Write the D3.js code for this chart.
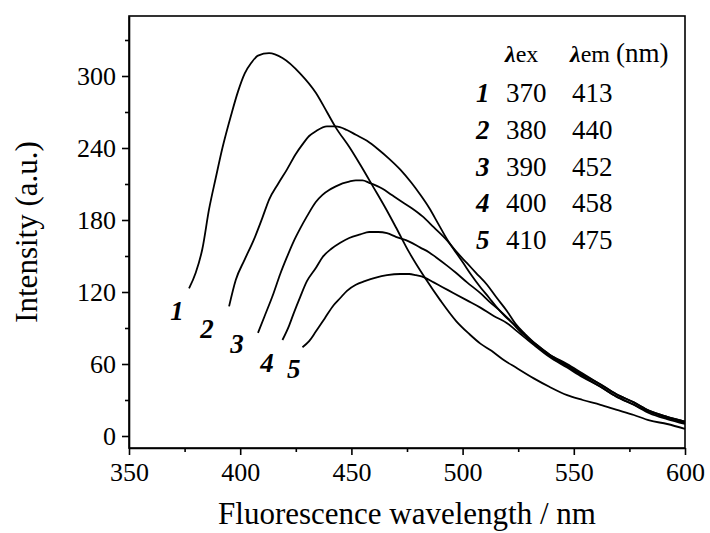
<!DOCTYPE html>
<html>
<head>
<meta charset="utf-8">
<script src="https://cdn.jsdelivr.net/npm/d3@7"></script>
<style>
  body { margin: 0; background: #fff; }
  .axis path, .axis line { stroke: #000; stroke-width: 1.6px; }
  .axis text { fill: #000; font-size: 26px; }
</style>
</head>
<body>
<svg id="chart" width="710" height="533"></svg>
<script>
var FONT = '"Liberation Serif"';

// emission spectra: [wavelength nm, intensity a.u.]
var curve1 = [[377,123],[380,136],[383,156],[386,189],[389,215],[392,240],[396,268],[399,287],[402,302],
  [405,311],[408,317],[413,319],[419,315],[427,302],[434,286],[439,270],[443,257],[449,241],[454,226],
  [460,207],[465,191],[470,174],[476,153],[483,132],[490,113],[497,96],[503,85],[508,77],[513,71],
  [518,64],[524,57],[532,48],[539,41],[547,34],[554,30],[562,26],[569,22],[577,17.5],[584,13],[592,10],[600,6]];
var curve2 = [[395,108],[398,130],[402,147],[406,163],[410,182],[413,197],[417,210],[421,222],[425,235],
  [428,243],[431,250],[434,254],[439,258],[443,258],[448,255],[452,251],[457,246],[462,239],[467,231],
  [472,222],[477,211],[481,201],[485,190],[489,177],[493,164],[497,153],[500,145],[504,134],[508,124],
  [512,115],[515,108],[519,100],[523,93],[526,87],[532,78],[539,68],[547,60],[554,52],[562,43],[569,35],
  [577,28],[584,21],[592,16],[600,12]];
var curve3 = [[408,86],[411,100],[415,119],[418,135],[421,149],[424,162],[427,173],[430,183],[434,195],
  [437,201],[440,205],[443,208],[446,210.5],[449,212],[452,213],[455,213],[458,211],[464,206],[468,201],
  [472,196],[477,190],[482,183],[487,174],[493,163],[497,154],[502,144],[506,136],[511,126],[515,116],
  [520,104],[524,93],[528,85],[532,78],[539,68],[547,59],[554,51],[562,43],[569,35],[577,28],[584,21],
  [592,16],[600,12]];
var curve4 = [[419,80],[422,92],[424,102],[427,116],[430,129],[434,140],[437,149],[441,156],[445,161],
  [449,165],[454,168],[458,170],[462,170],[466,169],[470,166],[476,162],[481,157],[485,153],[488,149],
  [493,142],[497,136],[502,128],[508,119],[512,112],[517,104],[521,97],[524,91],[528,84],[532,77],
  [539,67],[547,58],[554,50],[562,41],[569,33],[577,26],[584,20],[592,15],[600,11]];
var curve5 = [[428,74],[431,79],[434,87],[438,98],[442,109],[445,115],[448,121],[452,126],[456,129],
  [461,132],[466,134],[472,135],[476,135],[479,134],[483,132],[487,128],[491,124],[496,119],[502,113],
  [508,107],[514,100],[520,94],[524,88],[528,82],[532,76],[539,66],[547,57],[554,49],[562,41],[569,33],
  [577,26],[584,19],[592,14],[600,10]];

var curveNames = ['1', '2', '3', '4', '5'];
// where each curve number sits, in data units [wavelength, intensity]
var labelAnchors = [[368.5,97],[382,81.5],[395.5,69],[409,53],[421,48]];
var exWavelengths = ['370', '380', '390', '400', '410'];
var emWavelengths = ['413', '440', '452', '458', '475'];

var xTicks = [350, 400, 450, 500, 550, 600];
var xMinor = [375, 425, 475, 525, 575];
var yTicks = [0, 60, 120, 180, 240, 300];
var yMinor = [30, 90, 150, 210, 270, 330];

var svg = d3.select('#chart');
var x = d3.scaleLinear().domain([350, 600]).range([129, 685]);
var y = d3.scaleLinear().domain([-10, 350]).range([448, 16]);

// frame
svg.append('rect')
  .attr('x', x(350)).attr('y', y(350))
  .attr('width', x(600) - x(350)).attr('height', y(-10) - y(350))
  .attr('fill', 'none').attr('stroke', '#000').attr('stroke-width', 1.6);

var gx = svg.append('g').attr('class', 'axis').attr('transform', 'translate(0,' + y(-10) + ')');
gx.call(d3.axisBottom(x).tickValues(xTicks).tickSize(7).tickPadding(8).tickSizeOuter(0));
gx.append('g').call(d3.axisBottom(x).tickValues(xMinor).tickSize(4).tickFormat('').tickSizeOuter(0))
  .select('.domain').remove();

var gy = svg.append('g').attr('class', 'axis').attr('transform', 'translate(' + x(350) + ',0)');
gy.call(d3.axisLeft(y).tickValues(yTicks).tickSize(7).tickPadding(6).tickSizeOuter(0));
gy.append('g').call(d3.axisLeft(y).tickValues(yMinor).tickSize(4).tickFormat('').tickSizeOuter(0))
  .select('.domain').remove();

// titles
svg.append('text')
  .attr('x', (x(350) + x(600)) / 2).attr('y', 524)
  .attr('text-anchor', 'middle').attr('font-size', 31)
  .text('Fluorescence wavelength / nm');
svg.append('text')
  .attr('transform', 'translate(37,' + (y(-10) + y(350)) / 2 + ') rotate(-90)')
  .attr('text-anchor', 'middle').attr('font-size', 31)
  .text('Intensity (a.u.)');

// spectra
var line = d3.line()
  .curve(d3.curveMonotoneX)
  .x(function(d) { return x(d[0]); })
  .y(function(d) { return y(d[1]); });
svg.selectAll('.spectrum')
  .data([curve1, curve2, curve3, curve4, curve5])
  .enter().append('path')
  .attr('class', 'spectrum')
  .attr('d', line)
  .attr('fill', 'none')
  .attr('stroke', '#000')
  .attr('stroke-width', 1.8)
  .attr('stroke-linejoin', 'round');

svg.selectAll('.curve-label')
  .data(curveNames)
  .enter().append('text')
  .attr('class', 'curve-label')
  .attr('x', function(d, i) { return x(labelAnchors[i][0]); })
  .attr('y', function(d, i) { return y(labelAnchors[i][1]); })
  .attr('font-size', 27).attr('font-weight', 'bold').attr('font-style', 'italic')
  .text(function(d) { return d; });

// excitation / emission table
var legend = svg.append('g').attr('font-size', 27);
var head = legend.append('text').attr('x', 505).attr('y', 62).attr('font-size', 24);
head.append('tspan').attr('font-weight', 'bold').attr('font-style', 'italic').text('λ');
head.append('tspan').text('ex');
var head2 = legend.append('text').attr('x', 570).attr('y', 62).attr('font-size', 24);
head2.append('tspan').attr('font-weight', 'bold').attr('font-style', 'italic').text('λ');
head2.append('tspan').text('em ');
head2.append('tspan').attr('font-size', 27).text('(nm)');

var rows = legend.selectAll('.row')
  .data(curveNames)
  .enter().append('g')
  .attr('class', 'row')
  .attr('transform', function(d, i) { return 'translate(0,' + (102 + i * 36.8) + ')'; });
rows.append('text').attr('x', 476)
  .attr('font-weight', 'bold').attr('font-style', 'italic')
  .text(function(d) { return d; });
rows.append('text').attr('x', 506).text(function(d, i) { return exWavelengths[i]; });
rows.append('text').attr('x', 572).text(function(d, i) { return emWavelengths[i]; });

svg.selectAll('text').style('font-family', FONT);
</script>
</body>
</html>
